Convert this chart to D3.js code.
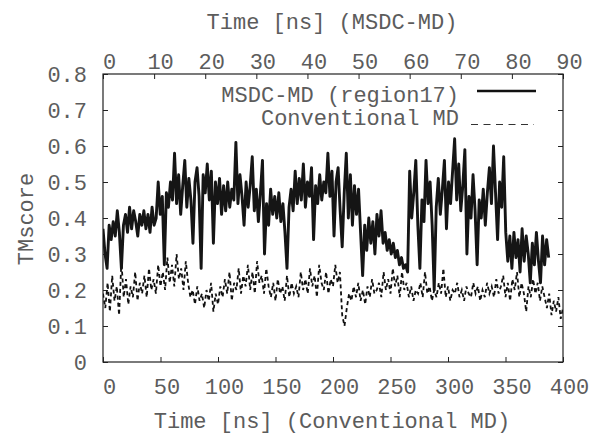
<!DOCTYPE html>
<html>
<head>
  <meta charset="utf-8">
  <title>TMscore vs time</title>
  <script src="https://cdn.jsdelivr.net/npm/d3@7"></script>
  <style>
    body { margin: 0; background: #fff; }
    svg text { font-family: "Liberation Mono", "DejaVu Sans Mono", monospace; font-size: 22px; fill: #5c5c5c; }
  </style>
</head>
<body>
<svg id="chart" width="600" height="435"></svg>
<script>
  // MSDC-MD, one value every 0.4 ns (top axis)
  var msdcStep = 0.4;
  var msdcValues = [
    0.37, 0.30, 0.26, 0.38, 0.34, 0.39, 0.35, 0.42, 0.36, 0.26,
    0.38, 0.41, 0.36, 0.43, 0.37, 0.42, 0.39, 0.35, 0.41, 0.38,
    0.42, 0.37, 0.41, 0.36, 0.43, 0.38, 0.40, 0.50, 0.41, 0.46,
    0.27, 0.47, 0.43, 0.50, 0.45, 0.58, 0.44, 0.52, 0.41, 0.49,
    0.56, 0.43, 0.51, 0.45, 0.33, 0.50, 0.54, 0.46, 0.26, 0.52,
    0.47, 0.55, 0.45, 0.53, 0.33, 0.50, 0.44, 0.51, 0.41, 0.49,
    0.42, 0.50, 0.43, 0.48, 0.45, 0.61, 0.44, 0.52, 0.46, 0.38,
    0.50, 0.43, 0.49, 0.57, 0.42, 0.48, 0.39, 0.47, 0.56, 0.30,
    0.44, 0.38, 0.48, 0.41, 0.46, 0.40, 0.47, 0.39, 0.44, 0.36,
    0.26, 0.43, 0.48, 0.42, 0.53, 0.44, 0.51, 0.45, 0.55, 0.43,
    0.50, 0.46, 0.54, 0.34, 0.49, 0.44, 0.52, 0.45, 0.50, 0.47,
    0.58, 0.46, 0.53, 0.35, 0.50, 0.54, 0.42, 0.32, 0.47, 0.58,
    0.40, 0.52, 0.38, 0.49, 0.41, 0.48, 0.36, 0.24, 0.38, 0.31,
    0.40, 0.33, 0.39, 0.30, 0.41, 0.35, 0.42, 0.33, 0.36, 0.31,
    0.34, 0.30, 0.33, 0.29, 0.31, 0.27, 0.29, 0.26, 0.27, 0.25,
    0.53, 0.40, 0.47, 0.56, 0.38, 0.26, 0.45, 0.39, 0.56, 0.44,
    0.50, 0.38, 0.20, 0.43, 0.51, 0.41, 0.48, 0.56, 0.37, 0.50,
    0.44, 0.53, 0.62, 0.45, 0.55, 0.42, 0.49, 0.59, 0.30, 0.46,
    0.40, 0.52, 0.42, 0.27, 0.45, 0.40, 0.48, 0.38, 0.47, 0.54,
    0.44, 0.60, 0.47, 0.34, 0.50, 0.43, 0.57, 0.36, 0.28, 0.35,
    0.26, 0.36, 0.29, 0.34, 0.25, 0.37, 0.28, 0.35, 0.30, 0.22,
    0.33, 0.27, 0.36, 0.28, 0.22, 0.35, 0.27, 0.34, 0.29
  ];

  // Conventional MD, one value every 2 ns (bottom axis)
  var convStep = 2;
  var convValues = [
    0.19, 0.15, 0.22, 0.14, 0.24, 0.17, 0.21, 0.13, 0.28, 0.18,
    0.23, 0.16, 0.21, 0.18, 0.25, 0.17, 0.22, 0.19, 0.24, 0.18,
    0.26, 0.20, 0.23, 0.19, 0.27, 0.21, 0.25, 0.20, 0.29, 0.22,
    0.27, 0.21, 0.30, 0.23, 0.26, 0.20, 0.28, 0.22, 0.18, 0.20,
    0.16, 0.21, 0.17, 0.19, 0.15, 0.20, 0.17, 0.22, 0.14, 0.19,
    0.16, 0.21, 0.18, 0.23, 0.19, 0.25, 0.17, 0.22, 0.20, 0.26,
    0.19, 0.24, 0.21, 0.27, 0.20, 0.25, 0.19, 0.28, 0.22, 0.24,
    0.19, 0.26, 0.21, 0.18, 0.22, 0.17, 0.23, 0.19, 0.21, 0.17,
    0.24, 0.18, 0.22, 0.19, 0.21, 0.18, 0.25, 0.20, 0.23, 0.19,
    0.26, 0.21, 0.24, 0.18, 0.27, 0.22, 0.20, 0.25, 0.19, 0.23,
    0.21, 0.27, 0.22, 0.25, 0.13, 0.10, 0.15, 0.19, 0.17, 0.21,
    0.18, 0.22, 0.17, 0.20, 0.16, 0.21, 0.18, 0.23, 0.19, 0.20,
    0.22, 0.18, 0.25, 0.20, 0.23, 0.19, 0.26, 0.21, 0.24, 0.18,
    0.25, 0.20, 0.22, 0.18, 0.21, 0.17, 0.20, 0.19, 0.22, 0.18,
    0.25, 0.19, 0.21, 0.17, 0.20, 0.18, 0.22, 0.19, 0.26, 0.18,
    0.21, 0.17, 0.20, 0.19, 0.22, 0.18, 0.20, 0.17, 0.21, 0.19,
    0.18, 0.22, 0.19, 0.21, 0.17, 0.20, 0.18, 0.22, 0.19, 0.21,
    0.18, 0.23, 0.19, 0.21, 0.24, 0.18, 0.22, 0.17, 0.23, 0.20,
    0.25, 0.18, 0.22, 0.19, 0.14, 0.21, 0.18, 0.23, 0.19, 0.22,
    0.17, 0.21, 0.18, 0.15, 0.19, 0.13, 0.17, 0.14, 0.18, 0.12,
    0.15
  ];

  var bottomTicks = [0, 50, 100, 150, 200, 250, 300, 350, 400];
  var topTicks = [0, 10, 20, 30, 40, 50, 60, 70, 80, 90];
  var yTicks = [0, 0.1, 0.2, 0.3, 0.4, 0.5, 0.6, 0.7, 0.8];

  var svg = d3.select('#chart');
  var plotL = 103, plotR = 563, plotT = 74, plotB = 362;

  var xBottom = d3.scaleLinear().domain([0, 400]).range([plotL, plotR]);
  var xTop = d3.scaleLinear().domain([0, 90]).range([plotL, plotR]);
  var y = d3.scaleLinear().domain([0, 0.8]).range([plotB, plotT]);

  // axes, ticks pointing inward like gnuplot
  var gB = svg.append('g').attr('transform', 'translate(0,' + plotB + ')')
      .call(d3.axisBottom(xBottom).tickValues(bottomTicks).tickSize(-5).tickSizeOuter(0));
  gB.selectAll('text').attr('dy', null).attr('y', 32).attr('dx', 6);

  var gT = svg.append('g').attr('transform', 'translate(0,' + plotT + ')')
      .call(d3.axisTop(xTop).tickValues(topTicks).tickSize(-5).tickSizeOuter(0));
  gT.selectAll('text').attr('dy', null).attr('y', -5).attr('dx', 6);

  var gL = svg.append('g').attr('transform', 'translate(' + plotL + ',0)')
      .call(d3.axisLeft(y).tickValues(yTicks).tickSize(-5).tickSizeOuter(0)
        .tickFormat(function(d) { return d === 0 ? '0' : d.toFixed(1); }));
  gL.selectAll('text').attr('x', -16).attr('dy', '0.35em');

  svg.append('g').attr('transform', 'translate(' + plotR + ',0)')
      .call(d3.axisRight(y).tickValues(yTicks).tickSize(-5).tickSizeOuter(0).tickFormat(''));

  svg.selectAll('.domain').remove();
  svg.selectAll('.tick line').attr('stroke', '#222').attr('stroke-width', 1);
  svg.selectAll('g').attr('font-family', null).attr('font-size', null);
  svg.selectAll('.tick text').attr('fill', null);

  svg.append('rect')
      .attr('x', plotL).attr('y', plotT)
      .attr('width', plotR - plotL).attr('height', plotB - plotT)
      .attr('fill', 'none').attr('stroke', '#222').attr('stroke-width', 1.2);

  // axis titles
  svg.append('text').attr('x', 332).attr('y', 29).attr('text-anchor', 'middle').text('Time [ns] (MSDC-MD)');
  svg.append('text').attr('x', 332).attr('y', 428).attr('text-anchor', 'middle').text('Time [ns] (Conventional MD)');
  svg.append('text').attr('transform', 'translate(33,219) rotate(-90)').attr('text-anchor', 'middle').text('TMscore');

  svg.append('clipPath').attr('id', 'plotclip')
    .append('rect').attr('x', plotL).attr('y', plotT).attr('width', plotR - plotL).attr('height', plotB - plotT);

  var plot = svg.append('g').attr('clip-path', 'url(#plotclip)');

  var convLine = d3.line()
      .x(function(d, i) { return xBottom(i * convStep); })
      .y(function(d) { return y(d); });
  var msdcLine = d3.line()
      .x(function(d, i) { return xTop(i * msdcStep); })
      .y(function(d) { return y(d); });

  plot.append('path').datum(convValues)
      .attr('d', convLine)
      .attr('fill', 'none').attr('stroke', '#111')
      .attr('stroke-width', 1.8).attr('stroke-dasharray', '4,3');

  plot.append('path').datum(msdcValues)
      .attr('d', msdcLine)
      .attr('fill', 'none').attr('stroke', '#151515')
      .attr('stroke-width', 2.9).attr('stroke-linejoin', 'round');

  // legend
  svg.append('text').attr('x', 459).attr('y', 101.5).attr('text-anchor', 'end').text('MSDC-MD (region17)');
  svg.append('text').attr('x', 459).attr('y', 124.5).attr('text-anchor', 'end').text('Conventional MD');
  svg.append('line').attr('x1', 477).attr('x2', 536).attr('y1', 91).attr('y2', 91)
      .attr('stroke', '#111').attr('stroke-width', 2.6);
  svg.append('line').attr('x1', 471).attr('x2', 534).attr('y1', 124.5).attr('y2', 124.5)
      .attr('stroke', '#333').attr('stroke-width', 1.2).attr('stroke-dasharray', '7,5.5');
</script>
</body>
</html>
